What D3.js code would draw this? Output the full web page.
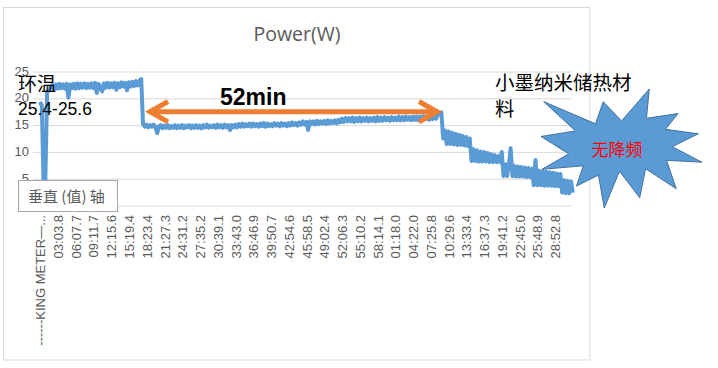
<!DOCTYPE html>
<html><head><meta charset="utf-8">
<script src="https://cdn.jsdelivr.net/npm/d3@7"></script>
<style>body{margin:0;background:#fff}svg{display:block}</style>
</head><body><svg id="c" width="718" height="368"></svg>
<script>
// ---- data ----
const categories = ["------KING METER\u2014...", "03:03.8", "06:07.7", "09:11.7", "12:15.6", "15:19.4", "18:23.4", "21:27.3", "24:31.2", "27:35.2", "30:39.1", "33:43.0", "36:46.9", "39:50.7", "42:54.6", "45:58.5", "49:02.4", "52:06.3", "55:10.2", "58:14.1", "01:18.0", "04:22.0", "07:25.8", "10:29.6", "13:33.4", "16:37.3", "19:41.2", "22:45.0", "25:48.9", "28:52.8"];
const pointsPerLabel = 10;
const power = [
 19.2, 18.6, 4.3, 4.5, 21.0,
 21.5, 21.9, 22.4, 21.6, 22.5, 21.7, 22.6, 21.8, 22.5, 21.7,
 22.6, 20.0, 22.5, 21.8, 22.6, 21.7, 22.7, 21.8, 22.6, 21.9,
 22.7, 21.8, 22.6, 21.9, 22.7, 21.8, 22.8, 20.9, 22.6, 21.9,
 21.2, 22.7, 21.9, 22.8, 21.9, 22.7, 22.0, 22.8, 21.5, 22.7,
 22.0, 22.9, 22.1, 22.8, 21.4, 22.9, 22.1, 23.0, 22.2, 23.1,
 22.3, 23.2,
 23.5,
 15.1, 14.6, 15.0, 14.5, 14.9, 14.6, 15.0, 14.5, 13.4, 14.7,
 14.9, 14.3, 14.8, 14.4, 14.9, 14.3, 14.7, 14.4, 14.9, 14.3,
 14.8, 14.4, 14.9, 14.3, 14.8, 14.5, 14.9, 14.3, 14.8, 14.4,
 14.9, 14.4, 14.8, 14.3, 14.9, 14.5, 15.0, 14.4, 14.8, 14.5,
 14.9, 14.4, 15.0, 14.5, 14.9, 14.4, 15.0, 14.5, 14.9, 14.0,
 14.9, 14.5, 15.0, 14.5, 15.1,
 14.6, 15.2, 14.6, 15.1, 14.7, 15.2, 14.6, 15.2, 14.7, 15.1,
 14.6, 15.2, 14.7, 15.3, 14.6, 15.2, 14.7, 15.1, 14.7, 15.3,
 14.8, 15.2, 14.7, 15.3, 14.8, 15.2, 14.7, 15.3, 14.8, 15.4,
 14.9, 15.3, 14.8, 15.4,
 15.0, 15.6, 15.0, 15.5, 14.0, 15.6, 15.1, 15.6, 15.0, 15.7,
 15.1, 15.6, 15.2, 15.7, 15.1, 15.8, 15.2, 15.7, 15.3, 15.8,
 15.2, 15.9, 15.4,
 16.1, 15.5, 16.2, 15.6, 16.2, 15.6, 16.3, 15.5, 16.2, 15.6,
 16.3, 15.6, 16.2, 15.7, 16.3, 15.6, 16.2, 15.7, 16.3, 15.6,
 16.4, 15.7, 16.3, 15.7, 16.4, 15.8, 16.3, 15.7, 16.4, 15.8,
 16.3, 15.8, 16.5, 15.8, 16.4, 15.8, 16.5, 15.9, 16.4, 15.8,
 16.5, 15.9, 16.5, 15.8, 16.5,
 15.9, 16.6, 16.0, 16.5, 15.9, 16.6, 16.0, 16.7, 16.1, 16.8,
 16.9, 17.3,
 12.4,
 13.9, 11.4, 13.7, 11.4, 13.5, 11.3, 13.3, 11.2, 13.1, 11.2, 12.9, 11.1, 12.7, 11.0, 12.4,
 8.2, 10.4, 8.2, 10.2, 8.1, 10.0, 8.1, 9.9, 8.1, 9.7, 8.0, 9.5, 8.0, 9.3, 8.0, 9.1, 8.0,
 9.9, 5.4, 7.6, 5.4, 7.5, 10.6, 5.4, 7.3, 5.3, 7.2, 5.3, 7.1, 5.3, 7.0, 5.2, 6.9, 5.2, 6.8,
 3.7, 8.4, 3.7, 6.4, 3.7, 6.3, 3.6, 6.2, 3.6, 6.1, 3.6, 6.0, 3.5, 5.9, 3.5, 5.8,
 2.3, 4.6, 2.2, 4.5, 2.2, 4.4, 2.3
];
const yTicks = [0, 5, 10, 15, 20, 25];
const titleText = "Power(W)";
const durationText = "52min";
const ambientLines = ["环温", "25.4-25.6"];
const materialLines = ["小墨纳米储热材", "料"];
const burstText = "无降频";
const axisBoxText = "垂直 (值) 轴";

// ---- layout ----
const svg = d3.select("#c");
const plotL = 33, plotR = 572;
const x0 = 40, xEnd = 572.8;
const nIntervals = categories.length * pointsPerLabel;
const x = d3.scaleLinear().domain([0, nIntervals]).range([x0, xEnd]);
const y = d3.scaleLinear().domain([0, 25]).range([205, 71]);
const grey = "#595959";

svg.append("rect").attr("x", 0).attr("y", 0).attr("width", 718).attr("height", 368).attr("fill", "#fff");
svg.append("rect").attr("x", 3.5).attr("y", 7.5).attr("width", 586.5).attr("height", 352.5)
  .attr("fill", "#fff").attr("stroke", "#D9D9D9").attr("stroke-width", 1);

svg.append("text").attr("x", 297).attr("y", 41).attr("text-anchor", "middle")
  .attr("font-family", "'Open Sans', sans-serif").attr("font-size", 19.5).attr("fill", grey).text(titleText);

// y axis + gridlines
const yAxis = d3.axisLeft(y).tickValues(yTicks).tickSize(-(plotR - plotL)).tickPadding(4);
const gy = svg.append("g").attr("transform", `translate(${plotL},0)`).call(yAxis);
gy.select(".domain").remove();
gy.selectAll(".tick line").attr("stroke", "#D9D9D9").attr("stroke-width", 1)
  .attr("transform", "translate(0,0.5)");
gy.selectAll(".tick text").attr("fill", grey).attr("font-family", "'Liberation Sans', Arial, sans-serif")
  .attr("font-size", 13);

// x axis labels
const xAxis = d3.axisBottom(x)
  .tickValues(categories.map((d, i) => i * pointsPerLabel))
  .tickFormat((d, i) => categories[i]).tickSize(0).tickPadding(0);
const gx = svg.append("g").attr("transform", "translate(0,215)").call(xAxis);
gx.select(".domain").remove();
gx.selectAll(".tick text")
  .attr("fill", grey).attr("font-family", "'Liberation Sans', Arial, sans-serif").attr("font-size", 13)
  .attr("text-anchor", "end").attr("transform", "rotate(-90)")
  .attr("x", 0).attr("y", 0).attr("dy", "0.36em");

// line
const line = d3.line().x((d, i) => x(i)).y(d => y(d));
svg.append("path").datum(power).attr("d", line).attr("fill", "none")
  .attr("stroke", "#5B9BD5").attr("stroke-width", 4).attr("stroke-linejoin", "round");

// double arrow annotation
const ar = svg.append("g").attr("stroke", "#ED7D31").attr("stroke-width", 5).attr("fill", "none");
ar.append("line").attr("x1", 149).attr("x2", 438).attr("y1", 111.7).attr("y2", 111.7);
ar.append("path").attr("d", "M168,101.5L150,111.7L168,121.9").attr("stroke-linejoin", "miter");
ar.append("path").attr("d", "M419,101.5L437,111.7L419,121.9").attr("stroke-linejoin", "miter");
svg.append("text").attr("x", 220).attr("y", 105).attr("font-family", "'Liberation Sans', Arial, sans-serif")
  .attr("font-weight", "bold").attr("font-size", 23).attr("fill", "#000").text(durationText);

const cjk = "'Noto Sans CJK SC', sans-serif";
svg.append("text").attr("x", 18).attr("y", 90.5).attr("font-family", cjk).attr("font-size", 19).attr("fill", "#000").text(ambientLines[0]);
svg.append("text").attr("x", 18).attr("y", 115).attr("font-family", "'Liberation Sans', Arial, sans-serif").attr("font-size", 17.5).attr("fill", "#000").text(ambientLines[1]);
svg.append("text").attr("x", 495).attr("y", 90).attr("font-family", cjk).attr("font-size", 19.5).attr("fill", "#000").text(materialLines[0]);
svg.append("text").attr("x", 495).attr("y", 115.5).attr("font-family", cjk).attr("font-size", 19.5).attr("fill", "#000").text(materialLines[1]);

// axis title box
svg.append("rect").attr("x", 18.5).attr("y", 180.5).attr("width", 99).attr("height", 31)
  .attr("fill", "#fff").attr("stroke", "#A6A6A6").attr("stroke-width", 1);
svg.append("text").attr("x", 28).attr("y", 202).attr("font-family", cjk).attr("font-size", 15)
  .attr("fill", grey).text(axisBoxText);

// explosion shape
const seal = [[10800,5800],[14522,0],[14155,5325],[18380,4457],[16702,7315],[21097,8137],[17607,10475],[21600,13290],[16837,12942],[18145,18095],[14020,14457],[13247,19737],[10532,14935],[8485,21600],[7715,15627],[4762,17617],[5667,13937],[135,14587],[3722,11775],[0,8615],[4627,7617],[370,2295],[7312,6320],[8352,2295]];
const sx = d3.scaleLinear().domain([0, 21600]).range([541, 702]);
const sy = d3.scaleLinear().domain([0, 21600]).range([89, 208]);
svg.append("path").attr("d", "M" + seal.map(p => sx(p[0]) + "," + sy(p[1])).join("L") + "Z")
  .attr("fill", "#5B9BD5").attr("stroke", "#41719C").attr("stroke-width", 1);
svg.append("text").attr("x", 617).attr("y", 156).attr("text-anchor", "middle").attr("font-family", cjk)
  .attr("font-size", 17).attr("fill", "#FF0000").text(burstText);
</script></body></html>
